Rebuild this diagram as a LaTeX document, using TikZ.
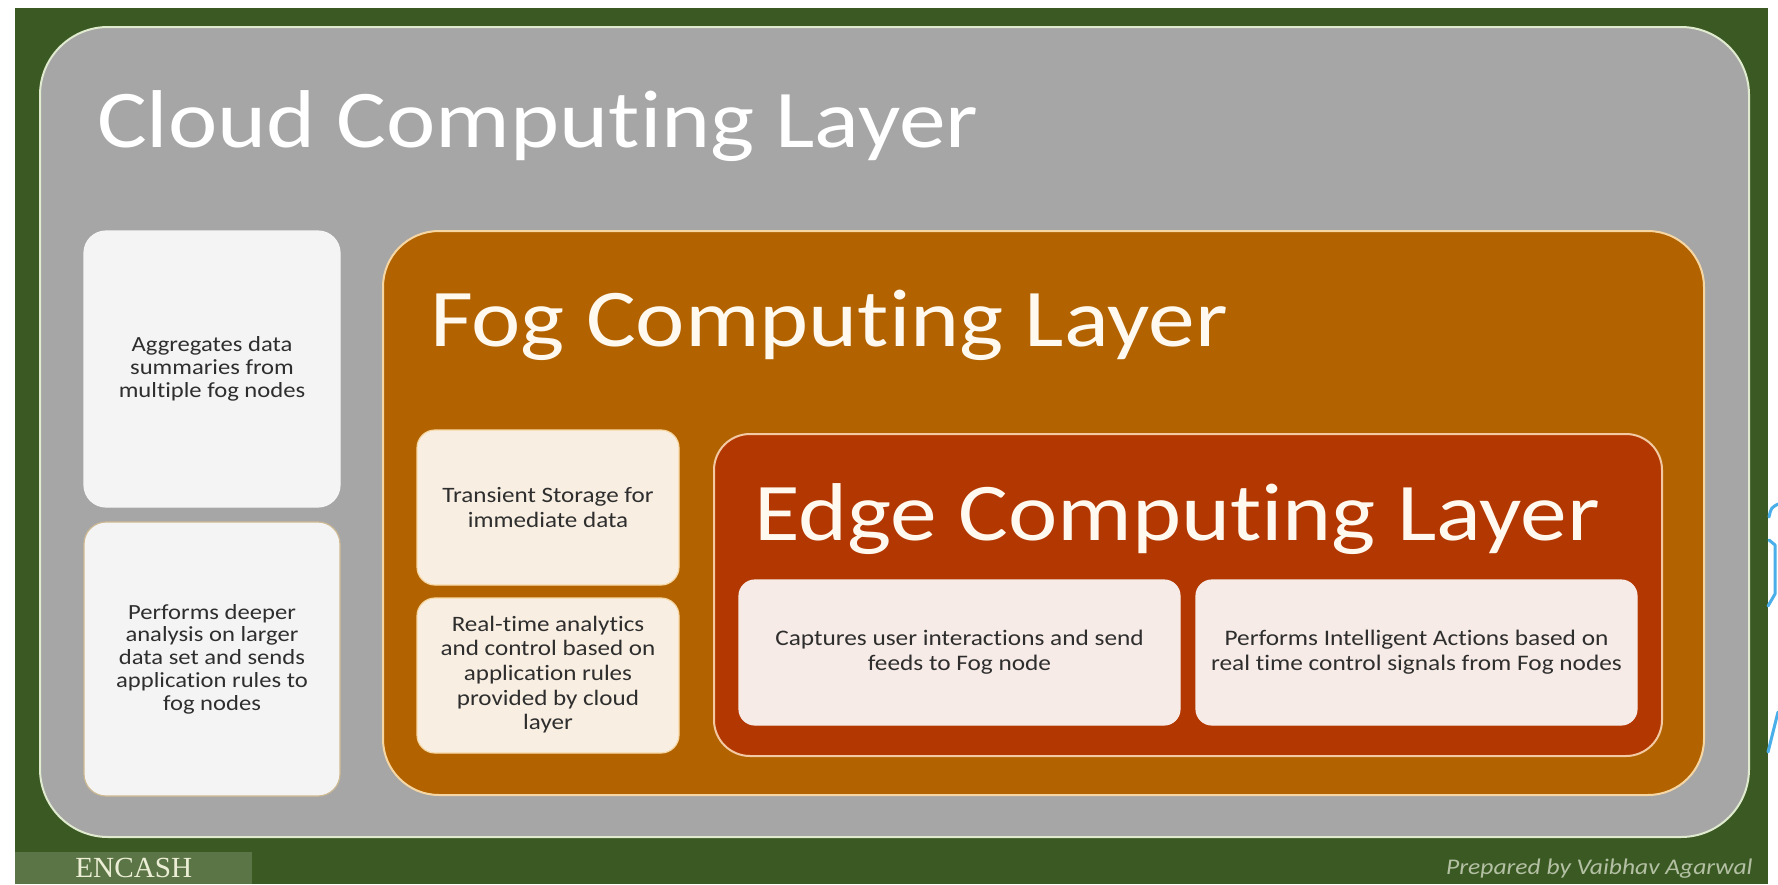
\documentclass[tikz,border=0pt]{standalone}
\usepackage{fontspec}
\setmainfont{Carlito}[FakeStretch=1.14, Ligatures=NoCommon]
\newfontfamily\encfont{Liberation Serif}

\definecolor{framegreen}{HTML}{3B5A23}
\definecolor{tabgreen}{HTML}{5B7546}
\definecolor{tabtext}{HTML}{ECEFD6}
\definecolor{credittext}{HTML}{B4C0A4}
\definecolor{cloudgray}{HTML}{A6A6A6}
\definecolor{cloudline}{HTML}{E0EACF}
\definecolor{cloudcard}{HTML}{F4F4F4}
\definecolor{cloudcardline}{HTML}{CDB993}
\definecolor{fogfill}{HTML}{B26300}
\definecolor{fogline}{HTML}{F6D7A4}
\definecolor{fogcard}{HTML}{F8EEE2}
\definecolor{edgefill}{HTML}{B33700}
\definecolor{edgeline}{HTML}{F2C9A2}
\definecolor{edgecard}{HTML}{F6EBE6}
\definecolor{bodytext}{HTML}{2E2E2E}
\definecolor{titlecream}{HTML}{FFF9F0}
\definecolor{markblue}{HTML}{4AAEE8}

\tikzset{
  panel/.style={inner sep=0pt, outer sep=0pt, line width=1pt},
  cloudpanel/.style={panel, fill=cloudgray, draw=cloudline, rounded corners=34pt},
  fogpanel/.style={panel, fill=fogfill, draw=fogline, rounded corners=28pt},
  edgepanel/.style={panel, fill=edgefill, draw=edgeline, rounded corners=18pt},
  card/.style={inner sep=0pt, outer sep=0pt, line width=0.6pt, align=center,
    text=bodytext, font=\fontsize{11}{12.3}\selectfont},
  cloudcardA/.style={card, fill=cloudcard, draw=cloudcard, rounded corners=11pt,
    font=\fontsize{10.8}{11.4}\selectfont},
  cloudcardB/.style={card, fill=cloudcard, draw=cloudcardline, rounded corners=11pt,
    font=\fontsize{10.8}{11.4}\selectfont},
  fogcardst/.style={card, fill=fogcard, draw=fogline, rounded corners=9pt},
  edgecardst/.style={card, fill=edgecard, draw=edgecard, rounded corners=8pt,
    font=\fontsize{11.1}{12.5}\selectfont},
  title/.style={anchor=base west, inner sep=0pt, outer sep=0pt,
    font=\fontsize{41}{46}\selectfont},
  bluemark/.style={draw=markblue, line width=1.5pt, line cap=round, line join=round}
}

\begin{document}
\begin{tikzpicture}[x=0.5pt, y=-0.5pt]
\useasboundingbox (0,0) rectangle (1778,884);
\fill[white] (0,0) rectangle (1778,884);

% slide frame
\fill[framegreen] (15,8) rectangle (1768,884);
\fill[tabgreen] (15,852) rectangle (252,884);
\node[anchor=base west, inner sep=0pt, text=tabtext, font=\encfont\fontsize{14.6}{16}\selectfont] (brand) at (75,877) {ENCASH};
\node[anchor=base east, inner sep=0pt, text=credittext, font=\itshape\fontsize{11.2}{12}\selectfont] (credit) at (1753,874) {Prepared by Vaibhav Agarwal};

% cloud layer
\node[cloudpanel, minimum width=854.5pt, minimum height=405pt] (cloud) at (894.5,432) {};
\node[title, text=white] (cloudtitle) at (97,147) {Cloud Computing Layer};
\node[cloudcardA, minimum width=128pt, minimum height=138pt] (agg) at (212,369)
  {Aggregates data\\summaries from\\multiple fog nodes};
\node[cloudcardB, minimum width=128pt, minimum height=137pt] (deep) at (212,659)
  {Performs deeper\\analysis on larger\\data set and sends\\application rules to\\fog nodes};

% fog layer
\node[fogpanel, minimum width=660.5pt, minimum height=282pt] (fog) at (1043.5,513) {};
\node[title, text=titlecream] (fogtitle) at (430,346) {Fog Computing Layer};
\node[fogcardst, minimum width=131pt, minimum height=77.5pt] (store) at (548,507.5)
  {Transient Storage for\\immediate data};
\node[fogcardst, minimum width=131pt, minimum height=77.5pt] (rt) at (548,675.5)
  {\raisebox{2pt}{\begin{tabular}{@{}c@{}}Real-time analytics\\and control based on\\application rules\\provided by cloud\\layer\end{tabular}}};

% edge layer
\node[edgepanel, minimum width=474pt, minimum height=161pt] (edge) at (1188,595) {};
\node[title, text=titlecream] (edgetitle) at (754,540) {Edge Computing Layer};
\node[edgecardst, minimum width=220.5pt, minimum height=72.5pt] (capture) at (959.5,652.5)
  {Captures user interactions and send\\feeds to Fog node};
\node[edgecardst, minimum width=220.5pt, minimum height=72.5pt] (act) at (1416.5,652.5)
  {Performs Intelligent Actions based on\\real time control signals from Fog nodes};

% partly visible shapes at the right edge
\draw[bluemark] (1769,517) .. controls (1771,508) .. (1778,504);
\draw[bluemark] (1769,540) -- (1775,545) -- (1775,594) -- (1768,606);
\draw[bluemark] (1768,752) -- (1778,712);
\end{tikzpicture}
\end{document}
